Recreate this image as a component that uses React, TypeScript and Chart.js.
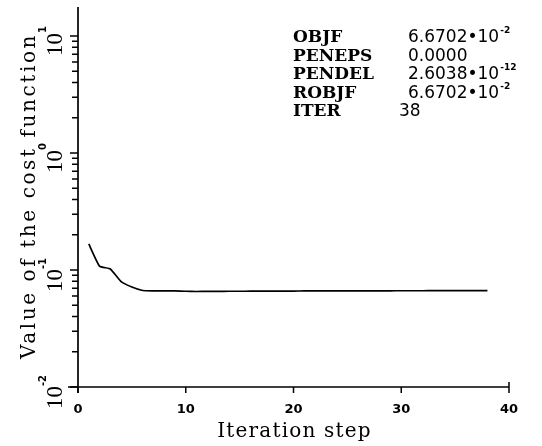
import React, { useEffect, useRef } from "react";
import { Chart, registerables } from "chart.js";

Chart.register(...registerables);

const iterations = [
  1, 2, 3, 4, 5, 6, 7, 8, 9, 10, 11, 12, 13, 14, 15, 16, 17, 18, 19, 20,
  21, 22, 23, 24, 25, 26, 27, 28, 29, 30, 31, 32, 33, 34, 35, 36, 37, 38,
];
const costValues = [
  0.167, 0.108, 0.102, 0.0795, 0.0715, 0.0668, 0.0664, 0.0664, 0.0663, 0.0658,
  0.0655, 0.0656, 0.0657, 0.0658, 0.0658, 0.0659, 0.066, 0.066, 0.0661, 0.0661,
  0.0662, 0.0662, 0.0662, 0.0663, 0.0663, 0.0664, 0.0664, 0.0663, 0.0664, 0.0665,
  0.0665, 0.0665, 0.0666, 0.0666, 0.0667, 0.0667, 0.0667, 0.0667,
];
const xTicks = [0, 10, 20, 30, 40];
const yDecadeExponents = [-2, -1, 0, 1];
const infoLabels = ["OBJF", "PENEPS", "PENDEL", "ROBJF", "ITER"];
const infoMantissas = ["6.6702\u202210", "0.0000", "2.6038\u202210", "6.6702\u202210", "38"];
const infoExponents = ["-2", "", "-12", "-2", ""];
const xTitle = "Iteration step";
const yTitle = "Value of the cost function";

const axesPlugin = {
  id: "plotterAxes",
  afterDraw(chart: any) {
    const ctx: CanvasRenderingContext2D = chart.ctx;
    const xs = chart.scales.x;
    const ys = chart.scales.y;
    const { left, right, top, bottom } = chart.chartArea;
    ctx.save();
    ctx.strokeStyle = "#000";
    ctx.fillStyle = "#000";
    ctx.lineWidth = 1.7;
    ctx.beginPath();
    ctx.moveTo(left, top);
    ctx.lineTo(left, bottom + 6);
    ctx.moveTo(left - 10, bottom);
    ctx.lineTo(right, bottom);
    ctx.stroke();

    // y ticks
    ctx.lineWidth = 1.5;
    ctx.beginPath();
    for (const e of yDecadeExponents) {
      for (let m = 1; m <= 9; m++) {
        const v = m * Math.pow(10, e);
        if (v > ys.max || v < ys.min) continue;
        const py = ys.getPixelForValue(v);
        const len = m === 1 ? 8 : 6;
        ctx.moveTo(left - len, py);
        ctx.lineTo(left, py);
      }
    }
    ctx.stroke();

    // x ticks
    ctx.beginPath();
    for (const t of xTicks) {
      const px = xs.getPixelForValue(t);
      ctx.moveTo(px, t === xTicks[xTicks.length - 1] ? bottom - 5 : bottom);
      ctx.lineTo(px, bottom + 6);
    }
    ctx.stroke();

    // x tick labels
    ctx.font = "bold 13px 'DejaVu Sans'";
    ctx.textAlign = "center";
    ctx.textBaseline = "alphabetic";
    for (const t of xTicks) {
      const px = xs.getPixelForValue(t);
      ctx.fillText(String(t), px, bottom + 26);
    }

    // x title
    ctx.font = "20px 'DejaVu Serif'";
    (ctx as any).letterSpacing = "1.2px";
    ctx.fillText(xTitle, (left + right) / 2 + 1, bottom + 50);
    (ctx as any).letterSpacing = "0px";

    // y tick labels (rotated)
    for (const e of yDecadeExponents) {
      const py = ys.getPixelForValue(Math.pow(10, e));
      ctx.save();
      ctx.translate(62, 0);
      ctx.rotate(-Math.PI / 2);
      ctx.font = "23px 'Liberation Serif'";
      const w10 = ctx.measureText("10").width;
      ctx.font = "bold 10px 'DejaVu Sans'";
      const sup = String(e);
      const wSup = ctx.measureText(sup).width;
      const total = w10 + wSup;
      const startLocal = -(py + total / 2 + 5);
      ctx.textAlign = "left";
      ctx.font = "23px 'Liberation Serif'";
      ctx.fillText("10", startLocal, 0);
      ctx.font = "bold 10px 'DejaVu Sans'";
      ctx.fillText(sup, startLocal + w10, -16);
      ctx.restore();
    }

    // y title
    ctx.save();
    ctx.translate(35, (top + bottom) / 2 - 1);
    ctx.rotate(-Math.PI / 2);
    ctx.font = "20px 'DejaVu Serif'";
    (ctx as any).letterSpacing = "2.6px";
    ctx.textAlign = "center";
    ctx.fillText(yTitle, 0, 0);
    ctx.restore();

    // info block
    ctx.textAlign = "left";
    for (let i = 0; i < infoLabels.length; i++) {
      const by = 42 + i * 18.5;
      ctx.font = "bold 17px 'DejaVu Serif'";
      ctx.fillText(infoLabels[i], 293, by);
      const vx = infoLabels[i] === "ITER" ? 399 : 408;
      ctx.font = "17px 'DejaVu Sans'";
      ctx.fillText(infoMantissas[i], vx, by);
      if (infoExponents[i]) {
        const w = ctx.measureText(infoMantissas[i]).width;
        ctx.font = "bold 9px 'DejaVu Sans'";
        ctx.fillText(infoExponents[i], vx + w + 1, by - 9);
      }
    }
    ctx.restore();
  },
};

export default function App() {
  const ref = useRef<HTMLCanvasElement | null>(null);
  useEffect(() => {
    document.body.style.margin = "0";
    const canvas = ref.current;
    if (!canvas) return;
    const chart = new Chart(canvas, {
      type: "line",
      data: {
        datasets: [
          {
            data: iterations.map((x, i) => ({ x, y: costValues[i] })),
            borderColor: "#000",
            borderWidth: 1.7,
            pointRadius: 0,
            tension: 0.15,
            fill: false,
          },
        ],
      },
      options: {
        animation: false,
        responsive: false,
        layout: { padding: { left: 78, right: 33, top: 7, bottom: 59 } },
        plugins: { legend: { display: false }, tooltip: { enabled: false } },
        scales: {
          x: { type: "linear", min: 0, max: 40, display: false },
          y: { type: "logarithmic", min: 0.01, max: 17.7, display: false },
        },
      },
      plugins: [axesPlugin],
    });
    return () => chart.destroy();
  }, []);
  return (
    <div style={{ width: 542, height: 446, background: "#fff" }}>
      <canvas ref={ref} width={542} height={446} style={{ display: "block" }} />
    </div>
  );
}
